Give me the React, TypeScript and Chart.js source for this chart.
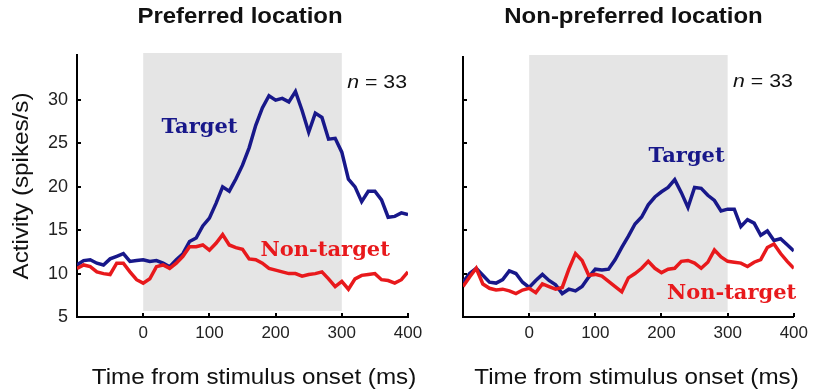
import React, { useEffect, useRef } from 'react';
import { Chart, registerables } from 'chart.js';

Chart.register(...registerables);

// ---- data ----
const timeMs = [
  -100, -90, -80, -70, -60, -50, -40, -30, -20, -10,
  0, 10, 20, 30, 40, 50, 60, 70, 80, 90,
  100, 110, 120, 130, 140, 150, 160, 170, 180, 190,
  200, 210, 220, 230, 240, 250, 260, 270, 280, 290,
  300, 310, 320, 330, 340, 350, 360, 370, 380, 390,
  400,
];

const prefTarget = [
  11.0, 11.5, 11.6, 11.2, 11.0, 11.7, 12.0, 12.3, 11.4, 11.5,
  11.6, 11.4, 11.5, 11.2, 10.8, 11.6, 12.3, 13.7, 14.1, 15.5,
  16.4, 18.1, 20.0, 19.5, 20.9, 22.5, 24.5, 27.1, 29.1, 30.5,
  30.0, 30.2, 29.8, 31.0, 28.8, 26.3, 28.5, 28.0, 25.5, 25.6,
  24.0, 20.9, 20.0, 18.3, 19.5, 19.5, 18.5, 16.5, 16.6, 17.0,
  16.8,
];

const prefNonTarget = [
  10.6, 11.0, 10.8, 10.2, 10.0, 9.9, 11.2, 11.2, 10.2, 9.3,
  8.9, 9.4, 10.8, 11.0, 10.6, 11.2, 12.0, 13.1, 13.1, 13.3,
  12.7, 13.5, 14.5, 13.3, 13.0, 12.8, 11.7, 11.6, 11.2, 10.6,
  10.4, 10.2, 10.0, 10.0, 9.7, 9.9, 10.0, 10.2, 9.4, 8.5,
  9.1, 8.2, 9.4, 9.8, 9.9, 10.0, 9.3, 9.2, 8.9, 9.3,
  10.2,
];

const nonPrefTarget = [
  9.0, 10.0, 10.6, 9.8, 9.0, 8.9, 9.3, 10.3, 10.0, 9.0,
  8.4, 9.2, 9.9, 9.2, 8.7, 7.7, 8.2, 8.0, 8.5, 9.6,
  10.5, 10.4, 10.5, 11.6, 13.0, 14.3, 15.7, 16.5, 17.9, 18.8,
  19.4, 19.9, 20.8, 19.3, 17.6, 19.9, 19.8, 19.0, 18.4, 17.2,
  17.4, 17.4, 15.4, 16.2, 15.8, 14.4, 14.9, 13.8, 14.0, 13.3,
  12.6,
];

const nonPrefNonTarget = [
  8.5, 9.6, 10.6, 8.8, 8.3, 8.1, 8.2, 8.0, 7.7, 8.1,
  8.3, 7.8, 8.8, 8.5, 8.2, 8.4, 10.5, 12.3, 11.5, 9.8,
  9.9, 9.7, 9.1, 8.5, 7.9, 9.5, 10.0, 10.6, 11.4, 10.6,
  10.1, 10.5, 10.6, 11.4, 11.5, 11.2, 10.6, 11.3, 12.7, 11.9,
  11.4, 11.3, 11.2, 10.8, 11.3, 11.6, 13.0, 13.4, 12.3, 11.4,
  10.6,
];

const xTickValues = [0, 100, 200, 300, 400];
const yTickValues = [5, 10, 15, 20, 25, 30];
const stimulusWindow = [0, 300];

const panelTitles = ['Preferred location', 'Non-preferred location'];
const xAxisTitle = 'Time from stimulus onset (ms)';
const yAxisTitle = 'Activity (spikes/s)';
const nLabel = '33';

// ---- styles ----
const BLUE = '#18188a';
const RED = '#e8191c';
const SHADE = '#e5e5e5';
const SANS = '"Liberation Sans", Arial, sans-serif';
const SERIF = '"DejaVu Serif", serif';

function stretchText(
  ctx: CanvasRenderingContext2D,
  text: string,
  x: number,
  y: number,
  font: string,
  color: string,
  align: CanvasTextAlign,
  sx: number,
  rotate = 0
) {
  ctx.save();
  ctx.translate(x, y);
  if (rotate) ctx.rotate(rotate);
  ctx.scale(sx, 1);
  ctx.font = font;
  ctx.fillStyle = color;
  ctx.textAlign = align;
  ctx.textBaseline = 'alphabetic';
  ctx.fillText(text, 0, 0);
  ctx.restore();
}

const decoPlugin = {
  id: 'panelDeco',
  beforeDatasetsDraw(chart: any, _args: any, opts: any) {
    const { ctx, chartArea, scales } = chart;
    const xs = scales.x;
    const ys = scales.y;
    const x0 = xs.getPixelForValue(stimulusWindow[0]);
    const x1 = xs.getPixelForValue(stimulusWindow[1]);
    const yb = ys.getPixelForValue(opts.shadeBottom);
    ctx.save();
    ctx.fillStyle = SHADE;
    ctx.fillRect(x0, chartArea.top - 2, x1 - x0, yb - chartArea.top + 2);
    ctx.restore();
  },
  afterDraw(chart: any, _args: any, opts: any) {
    const { ctx, chartArea, scales } = chart;
    const xs = scales.x;
    const ys = scales.y;
    ctx.save();
    // inward tick marks
    ctx.strokeStyle = '#000';
    ctx.lineWidth = 2;
    ctx.beginPath();
    yTickValues.forEach((v) => {
      const py = Math.round(ys.getPixelForValue(v));
      ctx.moveTo(chartArea.left, py);
      ctx.lineTo(chartArea.left + 4, py);
    });
    xTickValues.forEach((v) => {
      const px = Math.round(xs.getPixelForValue(v));
      ctx.moveTo(px, chartArea.bottom);
      ctx.lineTo(px, chartArea.bottom - 4);
    });
    ctx.stroke();
    ctx.restore();

    // panel title
    stretchText(ctx, opts.title, opts.titleX, 23, `bold 22px ${SANS}`, '#111', 'center', 1.09);
    // x axis title
    stretchText(ctx, xAxisTitle, opts.xTitleX, 384, `22px ${SANS}`, '#111', 'center', 1.1);
    // y axis title
    if (opts.showYTitle) {
      stretchText(ctx, yAxisTitle, 28, 186, `22px ${SANS}`, '#111', 'center', 1.1, -Math.PI / 2);
    }
    // series labels
    opts.labels.forEach((l: any) => {
      stretchText(
        ctx,
        l.text,
        xs.getPixelForValue(l.x),
        ys.getPixelForValue(l.y),
        `bold 21px ${SERIF}`,
        l.color,
        'center',
        1.0
      );
    });
    // n = 33
    const right = xs.getPixelForValue(400) - 1;
    const base = ys.getPixelForValue(31.4);
    const sx = 1.12;
    ctx.save();
    ctx.font = `italic 19px ${SANS}`;
    const wn = ctx.measureText('n').width;
    ctx.font = `19px ${SANS}`;
    const rest = ` = ${nLabel}`;
    const wr = ctx.measureText(rest).width;
    ctx.restore();
    const left = right - (wn + wr) * sx;
    stretchText(ctx, 'n', left, base, `italic 19px ${SANS}`, '#111', 'left', sx);
    stretchText(ctx, rest, left + wn * sx, base, `19px ${SANS}`, '#111', 'left', sx);
  },
};

function makeChart(canvas: HTMLCanvasElement, cfg: any) {
  return new Chart(canvas, {
    type: 'line',
    data: {
      datasets: [
        {
          label: 'Non-target',
          data: timeMs.map((t, i) => ({ x: t, y: cfg.non[i] })),
          borderColor: RED,
          borderWidth: 3.5,
          pointRadius: 0,
          tension: 0,
          fill: false,
        },
        {
          label: 'Target',
          data: timeMs.map((t, i) => ({ x: t, y: cfg.target[i] })),
          borderColor: BLUE,
          borderWidth: 3.5,
          pointRadius: 0,
          tension: 0,
          fill: false,
        },
      ],
    },
    options: {
      animation: false,
      responsive: false,
      layout: { padding: { left: 0, right: cfg.padRight, top: cfg.padTop, bottom: 0 } },
      plugins: {
        legend: { display: false },
        tooltip: { enabled: false },
        title: { display: false },
        panelDeco: cfg.deco,
      } as any,
      scales: {
        x: {
          type: 'linear',
          min: -100,
          max: 400,
          afterBuildTicks: (s: any) => {
            s.ticks = xTickValues.map((v) => ({ value: v }));
          },
          afterFit: (s: any) => {
            s.height = 75;
          },
          ticks: {
            autoSkip: false,
            maxRotation: 0,
            padding: 6,
            color: '#222',
            font: { family: SANS, size: 17 },
          },
          grid: { display: false, drawTicks: false },
          border: { display: true, color: '#000', width: 2 },
        },
        y: {
          type: 'linear',
          min: 5,
          max: cfg.yMax,
          afterBuildTicks: (s: any) => {
            s.ticks = yTickValues.map((v) => ({ value: v }));
          },
          afterFit: (s: any) => {
            s.width = cfg.yWidth;
          },
          ticks: {
            display: cfg.showYLabels,
            padding: 9,
            color: '#222',
            font: { family: SANS, size: 18 },
          },
          grid: { display: false, drawTicks: false },
          border: { display: true, color: '#000', width: 2 },
        },
      },
    } as any,
    plugins: [decoPlugin as any],
  });
}

export default function App() {
  const refA = useRef<HTMLCanvasElement>(null);
  const refB = useRef<HTMLCanvasElement>(null);

  useEffect(() => {
    const a = makeChart(refA.current!, {
      target: prefTarget,
      non: prefNonTarget,
      padRight: 22,
      padTop: 55,
      yMax: 35.2,
      yWidth: 77,
      showYLabels: true,
      deco: {
        title: panelTitles[0],
        titleX: 240,
        xTitleX: 254,
        showYTitle: true,
        shadeBottom: 5.7,
        labels: [
          { text: 'Target', x: 85, y: 26.2, color: BLUE },
          { text: 'Non-target', x: 275, y: 12.0, color: RED },
        ],
      },
    });
    const b = makeChart(refB.current!, {
      target: nonPrefTarget,
      non: nonPrefNonTarget,
      padRight: 18,
      padTop: 57,
      yMax: 34.9,
      yWidth: 53,
      showYLabels: false,
      deco: {
        title: panelTitles[1],
        titleX: 223.5,
        xTitleX: 226.5,
        showYTitle: false,
        shadeBottom: 5.6,
        labels: [
          { text: 'Target', x: 238, y: 22.85, color: BLUE },
          { text: 'Non-target', x: 306, y: 7.08, color: RED },
        ],
      },
    });
    return () => {
      a.destroy();
      b.destroy();
    };
  }, []);

  return (
    <div style={{ position: 'fixed', left: 0, top: 0, width: 814, height: 392, background: '#fff', overflow: 'hidden' }}>
      <canvas ref={refA} width={430} height={392} style={{ position: 'absolute', left: 0, top: 0 }} />
      <canvas ref={refB} width={404} height={392} style={{ position: 'absolute', left: 410, top: 0 }} />
    </div>
  );
}
